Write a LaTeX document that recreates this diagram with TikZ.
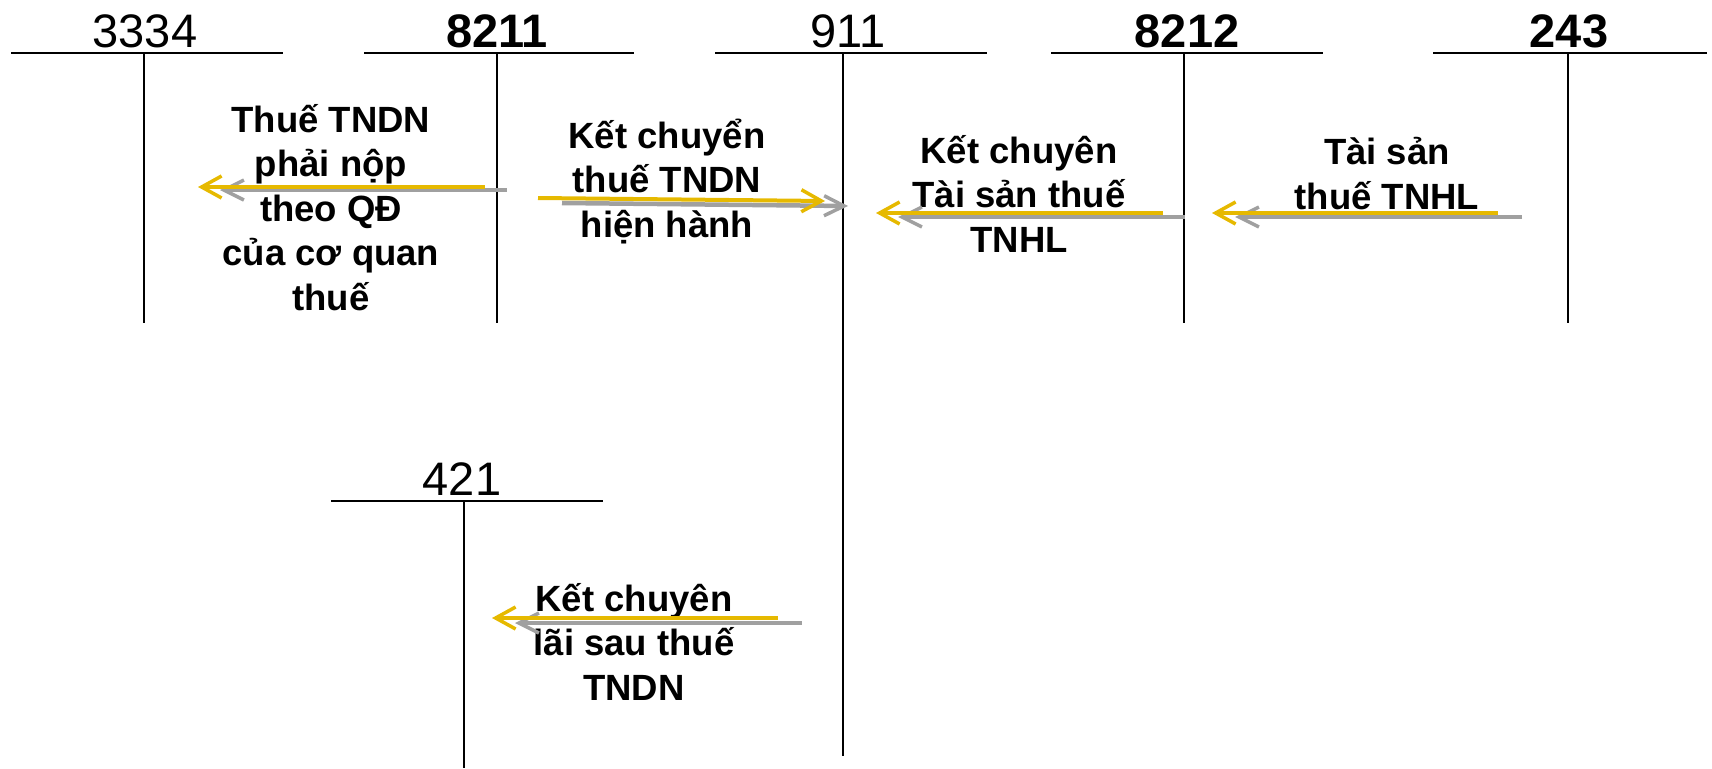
\documentclass[tikz,border=0pt]{standalone}
\usepackage{fontspec}
\setmainfont{Liberation Sans}
\usetikzlibrary{arrows.meta}
\definecolor{gold}{RGB}{230,185,0}
\definecolor{shadowgray}{RGB}{160,160,160}
\tikzset{
  hbar/.style={line width=2.5pt, black},
  vbar/.style={line width=2pt, black},
  acctnum/.style={font=\fontsize{47}{50}\selectfont, anchor=base, inner sep=0pt},
  acctbold/.style={acctnum, font=\fontsize{47}{50}\selectfont\bfseries},
  note/.style={font=\fontsize{36.5}{44.5}\selectfont\bfseries, align=center, anchor=base, inner sep=0pt},
  yarrow/.style={draw=gold, line width=4pt, -{Straight Barb[length=20pt, width=22pt, line width=3.5pt]}},
  garrow/.style={draw=shadowgray, line width=4.5pt, -{Straight Barb[length=20pt, width=20pt, line width=3.5pt]}},
}
\begin{document}
\begin{tikzpicture}[x=1pt, y=-1pt]
\useasboundingbox (0,0) rectangle (1712,768);

% T-accounts
\coordinate (a1L) at (11,53); \coordinate (a1R) at (283,53);
\coordinate (a1T) at (144,53); \coordinate (a1B) at (144,323);
\coordinate (a2L) at (364,53); \coordinate (a2R) at (634,53);
\coordinate (a2T) at (497,53); \coordinate (a2B) at (497,323);
\coordinate (a3L) at (715,53); \coordinate (a3R) at (987,53);
\coordinate (a3T) at (843,53); \coordinate (a3B) at (843,756);
\coordinate (a4L) at (1051,53); \coordinate (a4R) at (1323,53);
\coordinate (a4T) at (1184,53); \coordinate (a4B) at (1184,323);
\coordinate (a5L) at (1433,53); \coordinate (a5R) at (1707,53);
\coordinate (a5T) at (1568,53); \coordinate (a5B) at (1568,323);
\coordinate (a6L) at (331,501); \coordinate (a6R) at (603,501);
\coordinate (a6T) at (464,501); \coordinate (a6B) at (464,768);

\foreach \i in {1,...,6}{
  \draw[hbar] (a\i L) -- (a\i R);
  \draw[vbar] (a\i T) -- (a\i B);
}

\node[acctnum]  (n3334) at (145,48) {3334};
\node[acctbold] (n8211) at (497,48) {8211};
\node[acctnum]  (n911)  at (848,48) {911};
\node[acctbold] (n8212) at (1187,48) {8212};
\node[acctbold] (n243)  at (1569,48) {243};
\node[acctnum]  (n421)  at (462,495) {421};

% notes (anchored at the baseline of their last line)
\node[note] (t1) at (331,310) {Thuế TNDN\\phải nộp\\theo QĐ\\của cơ quan\\thuế};
\node[note] (t2) at (667,237) {Kết chuyển\\thuế TNDN\\hiện hành};
\node[note] (t3) at (1019,252) {Kết chuyên\\Tài sản thuế\\TNHL};
\node[note] (t4) at (1387,209) {Tài sản\\thuế TNHL};
\node[note] (t5) at (634,700) {Kết chuyên\\lãi sau thuế\\TNDN};

% arrow end points
\coordinate (g1s) at (507,190); \coordinate (g1e) at (220,190);
\coordinate (y1s) at (485,187); \coordinate (y1e) at (198,187);
\coordinate (g2s) at (562,203); \coordinate (g2e) at (848,206);
\coordinate (y2s) at (538,198); \coordinate (y2e) at (825,201);
\coordinate (g3s) at (1185,217); \coordinate (g3e) at (898,217);
\coordinate (y3s) at (1163,213); \coordinate (y3e) at (876,213);
\coordinate (g4s) at (1522,217); \coordinate (g4e) at (1235,217);
\coordinate (y4s) at (1498,213); \coordinate (y4e) at (1212,213);
\coordinate (g5s) at (802,623); \coordinate (g5e) at (515,623);
\coordinate (y5s) at (778,618); \coordinate (y5e) at (492,618);

\foreach \i in {1,...,5}{
  \draw[garrow] (g\i s) -- (g\i e);
  \draw[yarrow] (y\i s) -- (y\i e);
}
\end{tikzpicture}
\end{document}
